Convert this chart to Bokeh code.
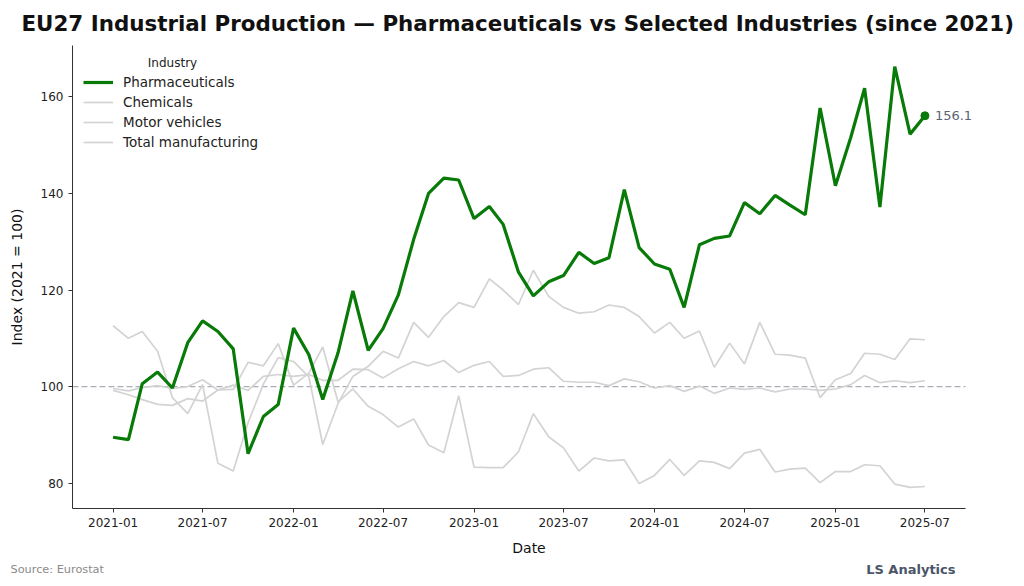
import pandas as pd
from bokeh.plotting import figure
from bokeh.models import (ColumnDataSource, Label, Legend, LegendItem, Title,
                          FixedTicker, DatetimeTickFormatter, Range1d)
from bokeh.embed import file_html
from bokeh.resources import INLINE

# ---------------- data ----------------
dates = pd.date_range("2021-01-01", periods=55, freq="MS")

pharmaceuticals = [
    89.5, 89.0, 100.6, 103.0, 99.7, 109.1, 113.6, 111.4, 107.8, 86.1, 93.8, 96.3,
    112.1, 106.6, 97.3, 107.0, 119.8, 107.5, 112.0, 119.0, 130.5, 140.0, 143.2, 142.8,
    134.8, 137.3, 133.6, 123.7, 118.8, 121.7, 123.0, 127.8, 125.5, 126.7, 140.8, 128.8,
    125.4, 124.3, 116.4, 129.4, 130.7, 131.2, 138.1, 135.8, 139.6, 137.6, 135.6, 157.7,
    141.6, 151.6, 161.8, 137.2, 166.3, 152.3, 156.1,
]
chemicals = [
    99.2, 98.3, 97.3, 96.3, 96.1, 97.5, 97.0, 99.3, 99.4, 105.0, 104.3, 108.9,
    100.3, 102.8, 108.2, 96.8, 99.5, 95.9, 94.2, 91.6, 93.3, 87.9, 86.3, 98.1,
    83.3, 83.2, 83.2, 86.5, 94.4, 89.6, 87.3, 82.5, 85.2, 84.6, 84.8, 79.9,
    81.6, 84.9, 81.6, 84.6, 84.3, 83.0, 86.2, 87.0, 82.3, 82.9, 83.1, 80.1,
    82.4, 82.4, 83.8, 83.6, 79.8, 79.1, 79.3,
]
motor_vehicles = [
    112.6, 110.0, 111.4, 107.3, 97.7, 94.4, 100.4, 84.1, 82.5, 92.5, 100.5, 106.0,
    105.2, 102.0, 88.0, 96.5, 102.1, 104.2, 107.3, 105.9, 113.3, 110.2, 114.5, 117.4,
    116.4, 122.3, 120.0, 117.0, 124.1, 118.7, 116.4, 115.2, 115.5, 116.9, 116.4, 114.5,
    111.1, 113.3, 110.0, 111.5, 104.0, 109.0, 104.7, 113.3, 106.7, 106.5, 105.9, 97.7,
    101.4, 102.7, 106.9, 106.7, 105.6, 109.9, 109.7,
]
total_manufacturing = [
    99.6, 99.1, 99.8, 100.2, 99.6, 100.0, 101.4, 99.3, 100.3, 99.2, 102.1, 102.5,
    102.1, 102.5, 101.3, 101.3, 103.6, 103.5, 101.8, 103.7, 105.2, 104.3, 105.4, 102.9,
    104.4, 105.2, 102.1, 102.3, 103.6, 103.9, 101.1, 100.9, 100.9, 100.2, 101.6, 101.0,
    99.7, 100.2, 99.0, 100.1, 98.6, 99.7, 99.4, 99.7, 98.9, 99.5, 99.5, 99.2,
    99.5, 100.4, 102.3, 100.8, 101.2, 100.8, 101.2,
]

x_tick_labels = ["2021-01", "2021-07", "2022-01", "2022-07", "2023-01",
                 "2023-07", "2024-01", "2024-07", "2025-01", "2025-07"]
y_ticks = [80, 100, 120, 140, 160]
baseline = 100

FONT = "DejaVu Sans"
GREEN = "#087a08"
GRAY = "#d3d3d3"

W, H = 1016, 580
FRAME_L, FRAME_R_AXIS, FRAME_R = 72, 965, 985   # axis spine ends at 965, frame a bit wider for the end label
FRAME_T, FRAME_B = 45, 509

# ---------------- ranges ----------------
t0, t1 = dates[0], dates[-1]
xpad = (t1 - t0) * 0.05
xs, xe = t0 - xpad, t1 + xpad
x_end_ext = xe + (xe - xs) * (FRAME_R - FRAME_R_AXIS) / (FRAME_R_AXIS - FRAME_L)
all_vals = pharmaceuticals + chemicals + motor_vehicles + total_manufacturing
ymin, ymax = min(all_vals), max(all_vals)
ypad = (ymax - ymin) * 0.05

p = figure(width=W, height=H, x_axis_type="datetime",
           x_range=Range1d(xs, x_end_ext),
           y_range=Range1d(ymin - ypad, ymax + ypad),
           output_backend="svg", toolbar_location=None,
           min_border_left=FRAME_L, min_border_right=W - FRAME_R,
           min_border_top=FRAME_T, min_border_bottom=H - FRAME_B)

p.outline_line_color = None
p.xgrid.visible = False
p.ygrid.visible = False
p.background_fill_color = "white"
p.border_fill_color = "white"

# title (left aligned, shifted left of the frame)
p.title.text = "EU27 Industrial Production \u2014 Pharmaceuticals vs Selected Industries (since 2021)"
p.title.text_font = FONT
p.title.text_font_size = "21.4px"
p.title.text_font_style = "bold"
p.title.text_color = "#111111"
p.title.align = "left"
p.title.offset = 21 - FRAME_L
p.title.vertical_align = "top"
p.title.standoff = 16

src = ColumnDataSource(dict(date=dates, pharma=pharmaceuticals, chem=chemicals,
                            motor=motor_vehicles, total=total_manufacturing))

p.segment(x0=[xs], x1=[xe], y0=[baseline], y1=[baseline], line_color="#a9aeb6",
          line_dash="6 3", line_width=1.2)

r_chem = p.line("date", "chem", source=src, line_color=GRAY, line_width=1.7)
r_motor = p.line("date", "motor", source=src, line_color=GRAY, line_width=1.7)
r_total = p.line("date", "total", source=src, line_color=GRAY, line_width=1.7)
r_pharma = p.line("date", "pharma", source=src, line_color=GREEN, line_width=3.2)

p.scatter(x=[dates[-1]], y=[pharmaceuticals[-1]], size=8, color=GREEN)
p.add_layout(Label(x=dates[-1], y=pharmaceuticals[-1], x_offset=10,
                   text=f"{pharmaceuticals[-1]:.1f}", text_baseline="middle",
                   text_font=FONT, text_font_size="13px", text_color="#5b6475"))

legend = Legend(items=[
    LegendItem(label="Pharmaceuticals", renderers=[r_pharma]),
    LegendItem(label="Chemicals", renderers=[r_chem]),
    LegendItem(label="Motor vehicles", renderers=[r_motor]),
    LegendItem(label="Total manufacturing", renderers=[r_total]),
], location=(11, 356), margin=0, padding=0, spacing=0,
    label_height=20, glyph_height=20, glyph_width=30, label_standoff=10,
    label_text_font=FONT, label_text_font_size="13.5px", label_text_color="#222222",
    border_line_color=None, background_fill_alpha=0)
p.add_layout(legend, "center")

p.add_layout(Label(x=100, y=446, x_units="screen", y_units="screen",
                   text="Industry", text_align="center", text_baseline="middle",
                   text_font=FONT, text_font_size="12px", text_color="#222222"))

# axes
for ax in (p.xaxis[0], p.yaxis[0]):
    ax.axis_line_color = "#333333"
    ax.major_tick_line_color = "#333333"
    ax.major_tick_out = 4
    ax.major_tick_in = 0
    ax.minor_tick_line_color = None
    ax.major_label_text_font = FONT
    ax.major_label_text_font_size = "12px"
    ax.major_label_text_color = "#222222"
    ax.axis_label_text_font = FONT
    ax.axis_label_text_font_size = "14px"
    ax.axis_label_text_font_style = "normal"
    ax.axis_label_text_color = "#111111"
    ax.major_label_standoff = 5

p.xaxis.bounds = (xs, xe)
p.xaxis.ticker = FixedTicker(ticks=[pd.Timestamp(s + "-01").value / 1e6 for s in x_tick_labels])
fmt = "%Y-%m"
p.xaxis.formatter = DatetimeTickFormatter(years=fmt, months=fmt, days=fmt, hours=fmt,
                                          hourmin=fmt, minutes=fmt, minsec=fmt,
                                          seconds=fmt, milliseconds=fmt,
                                          microseconds=fmt)
p.yaxis.ticker = FixedTicker(ticks=y_ticks)
p.xaxis.axis_label = "Date"
p.yaxis.axis_label = "Index (2021 = 100)"
p.xaxis.axis_label_standoff = 10
p.yaxis.axis_label_standoff = 13

# ---------------- footer (two titles below, sharing one row) ----------------
p.add_layout(Title(text="LS Analytics", align="right", offset=FRAME_R - 955,
                   vertical_align="middle", standoff=5,
                   text_font=FONT, text_font_size="13px", text_font_style="bold",
                   text_color="#4a5568"), "below")
p.add_layout(Title(text="Source: Eurostat", align="left", offset=10 - FRAME_L,
                   vertical_align="top", standoff=-35,
                   text_font=FONT, text_font_size="11.3px", text_font_style="normal",
                   text_color="#8a8a8a"), "below")

open("out.html", "w").write(file_html(p, INLINE))
